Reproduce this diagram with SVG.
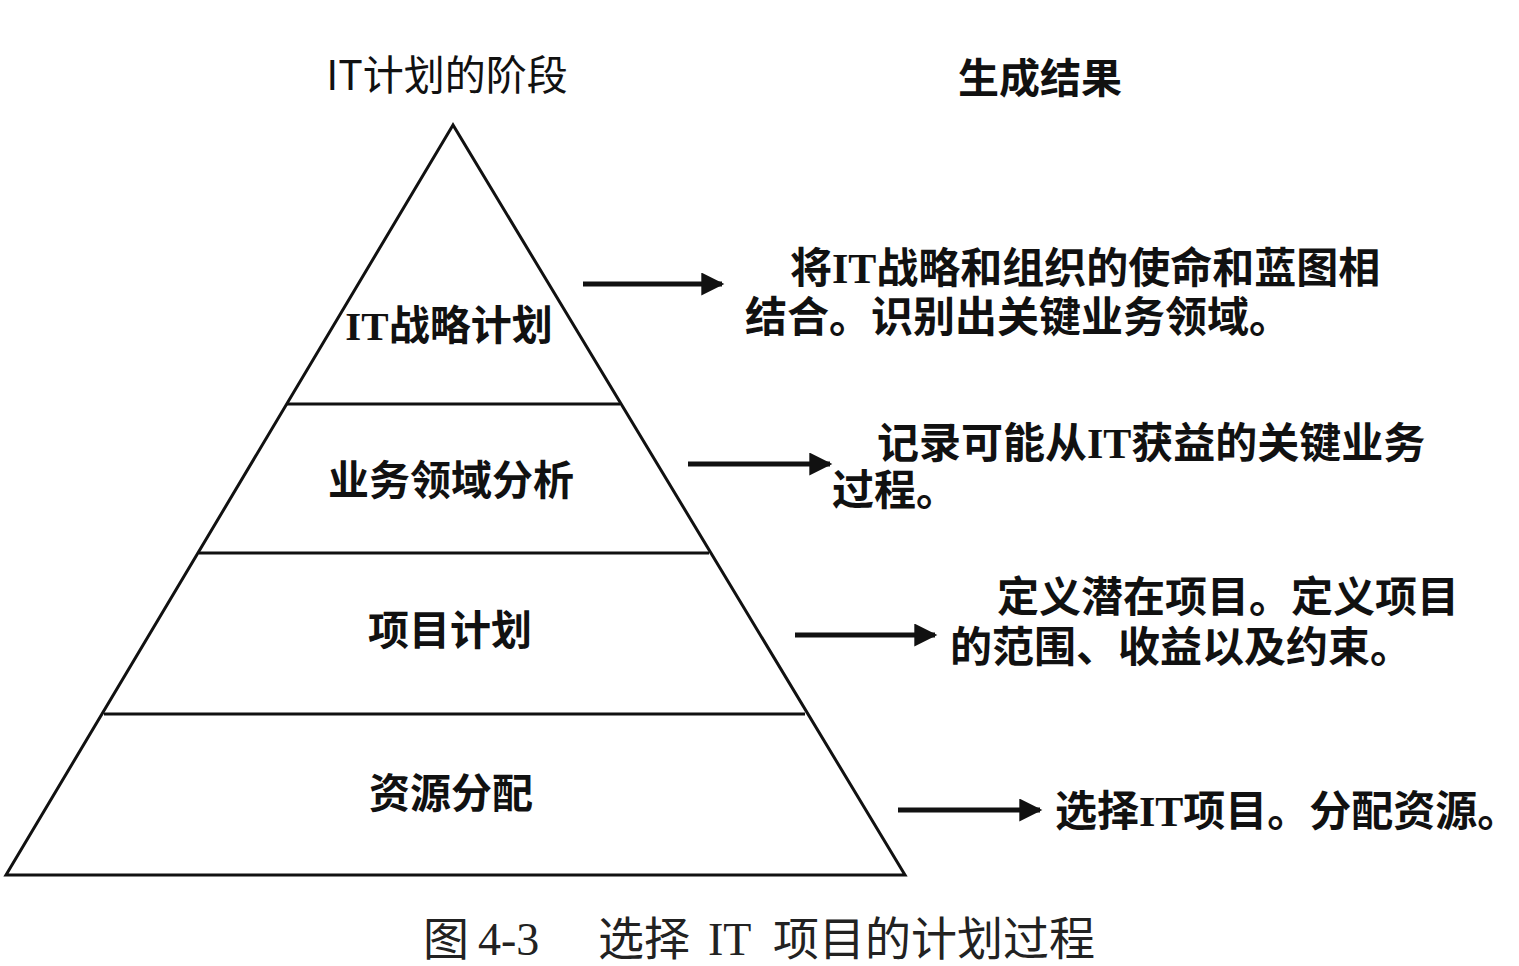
<svg xmlns="http://www.w3.org/2000/svg" width="1519" height="966" viewBox="0 0 1519 966">
<defs>
<style>
.hdr{font-family:"Noto Sans CJK SC","Noto Sans",sans-serif;font-size:41px;fill:#111}
.lvl{font-family:"Liberation Serif","Noto Sans CJK SC",serif;font-size:41px;font-weight:bold;fill:#111}
.res{font-family:"Liberation Serif","Noto Sans CJK SC",serif;font-size:42px;font-weight:bold;fill:#111}
.cap{font-family:"Liberation Serif","Noto Sans CJK SC",serif;font-size:46px;fill:#222}
.edge{stroke:#111;stroke-width:5;fill:none}
.pyr{stroke:#111;stroke-width:3;fill:none}
</style>
<marker id="ah" viewBox="0 0 10 10" refX="9" refY="5" markerWidth="5" markerHeight="4.6" markerUnits="strokeWidth" orient="auto">
<path d="M0,0 L10,5 L0,10 z" fill="#111"/>
</marker>
</defs>
<rect width="1519" height="966" fill="#fff"/>
<text class="hdr" x="447" y="90" text-anchor="middle">IT计划的阶段</text>
<text class="hdr" x="1040" y="93" text-anchor="middle" font-weight="bold">生成结果</text>
<g id="pyramid">
<path class="pyr" d="M453,125 L6,875 L905,875 Z"/>
<line class="pyr" x1="287" y1="404" x2="620" y2="404"/>
<line class="pyr" x1="199" y1="553" x2="709" y2="553"/>
<line class="pyr" x1="104" y1="714" x2="805" y2="714"/>
</g>
<g id="n1"><text class="lvl" x="449" y="340" text-anchor="middle">IT战略计划</text></g>
<g id="n2"><text class="lvl" x="451" y="495" text-anchor="middle">业务领域分析</text></g>
<g id="n3"><text class="lvl" x="450" y="645" text-anchor="middle">项目计划</text></g>
<g id="n4"><text class="lvl" x="451" y="808" text-anchor="middle">资源分配</text></g>
<g id="r1"><text class="res"><tspan x="790" y="283">将IT战略和组织的使命和蓝图相</tspan><tspan x="745" y="332">结合。识别出关键业务领域。</tspan></text></g>
<g id="r2"><text class="res"><tspan x="877" y="458">记录可能从IT获益的关键业务</tspan><tspan x="832" y="505">过程。</tspan></text></g>
<g id="r3"><text class="res"><tspan x="997" y="612">定义潜在项目。定义项目</tspan><tspan x="950" y="662">的范围、收益以及约束。</tspan></text></g>
<g id="r4"><text class="res" x="1055" y="826">选择IT项目。分配资源。</text></g>
<g id="connectors">
<line class="edge" x1="583" y1="284" x2="722" y2="284" marker-end="url(#ah)"/>
<line class="edge" x1="688" y1="464" x2="830" y2="464" marker-end="url(#ah)"/>
<line class="edge" x1="795" y1="635" x2="935" y2="635" marker-end="url(#ah)"/>
<line class="edge" x1="898" y1="810" x2="1040" y2="810" marker-end="url(#ah)"/>
</g>
<text class="cap"><tspan x="423" y="955">图</tspan><tspan x="478" y="955">4-3</tspan><tspan x="598" y="955">选择</tspan><tspan x="708" y="955">IT</tspan><tspan x="773" y="955">项目的计划过程</tspan></text>
</svg>
